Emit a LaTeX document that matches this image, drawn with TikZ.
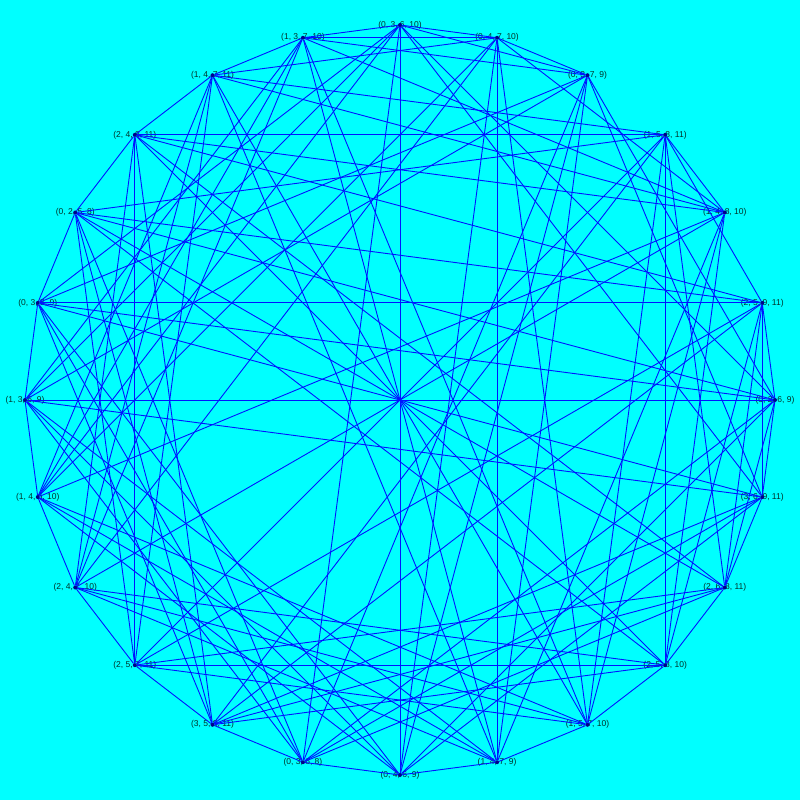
\documentclass[tikz,border=0pt]{standalone}
\usepackage{fontspec}
\setmainfont{Liberation Sans}
\usepackage{tikz}
\usetikzlibrary{positioning}
\definecolor{bgcyan}{RGB}{0,255,255}
\definecolor{edgeblue}{RGB}{0,20,255}
\definecolor{dotnavy}{RGB}{0,0,140}
\definecolor{labelink}{RGB}{0,50,40}
\tikzset{
  vertex/.style={circle, fill=dotnavy, inner sep=0pt, minimum size=4pt},
  chord/.style={inner sep=0pt, text=labelink, font=\fontsize{8.5}{10}\selectfont},
  edge/.style={draw=edgeblue, line width=0.9pt}
}
\begin{document}
\begin{tikzpicture}
\useasboundingbox (-400pt,-400pt) rectangle (400pt,400pt);
\fill[bgcyan] (-400pt,-400pt) rectangle (400pt,400pt);
% chords on the circle, clockwise from the top
\foreach \i/\txt in {0/{(0, 3, 6, 10)}, 1/{(0, 4, 7, 10)}, 2/{(0, 3, 7, 9)}, 3/{(1, 5, 8, 11)},
  4/{(1, 4, 8, 10)}, 5/{(2, 5, 9, 11)}, 6/{(0, 2, 6, 9)}, 7/{(3, 6, 9, 11)},
  8/{(2, 6, 8, 11)}, 9/{(2, 5, 8, 10)}, 10/{(1, 5, 7, 10)}, 11/{(1, 4, 7, 9)},
  12/{(0, 4, 6, 9)}, 13/{(0, 3, 6, 8)}, 14/{(3, 5, 8, 11)}, 15/{(2, 5, 7, 11)},
  16/{(2, 4, 7, 10)}, 17/{(1, 4, 6, 10)}, 18/{(1, 3, 6, 9)}, 19/{(0, 3, 5, 9)},
  20/{(0, 2, 5, 8)}, 21/{(2, 4, 8, 11)}, 22/{(1, 4, 7, 11)}, 23/{(1, 3, 7, 10)}}
{
  \node[chord] (lab_\i) at ({90-15*\i}:375pt) {\txt};
  \node[vertex] (ch_\i) at ({90-15*\i}:375pt) {};
}
% voice leadings of size two
\foreach \a/\b in {1/23, 1/17, 1/11, 23/17, 23/11, 17/11, 3/21, 3/15, 3/9, 21/15, 21/9, 15/9,
  6/19, 6/13, 6/7, 19/13, 19/7, 13/7,
  0/18, 0/12, 0/2, 18/12, 18/2, 12/2, 22/16, 22/10, 22/4, 16/10, 16/4, 10/4,
  20/14, 20/8, 20/5, 14/8, 14/5, 8/5,
  1/0, 1/22, 1/12, 1/10, 1/2, 1/4, 3/22, 3/20, 3/10, 3/8, 3/4, 3/5,
  6/20, 6/18, 6/8, 6/2, 6/5, 6/0, 23/18, 23/16, 23/2, 23/4, 23/0, 23/22,
  21/16, 21/14, 21/4, 21/5, 21/22, 21/20, 19/14, 19/12, 19/5, 19/0, 19/20, 19/18,
  17/12, 17/10, 17/0, 17/22, 17/18, 17/16, 15/10, 15/8, 15/22, 15/20, 15/16, 15/14,
  13/8, 13/2, 13/20, 13/18, 13/14, 13/12, 11/2, 11/4, 11/18, 11/16, 11/12, 11/10,
  9/4, 9/5, 9/16, 9/14, 9/10, 9/8, 7/5, 7/0, 7/14, 7/12, 7/8, 7/2,
  1/16, 3/14, 6/12, 23/10, 21/8, 19/2, 17/4, 15/5, 13/0, 11/22, 9/20, 7/18}
  \draw[edge] (ch_\a) -- (ch_\b);
\end{tikzpicture}
\end{document}
